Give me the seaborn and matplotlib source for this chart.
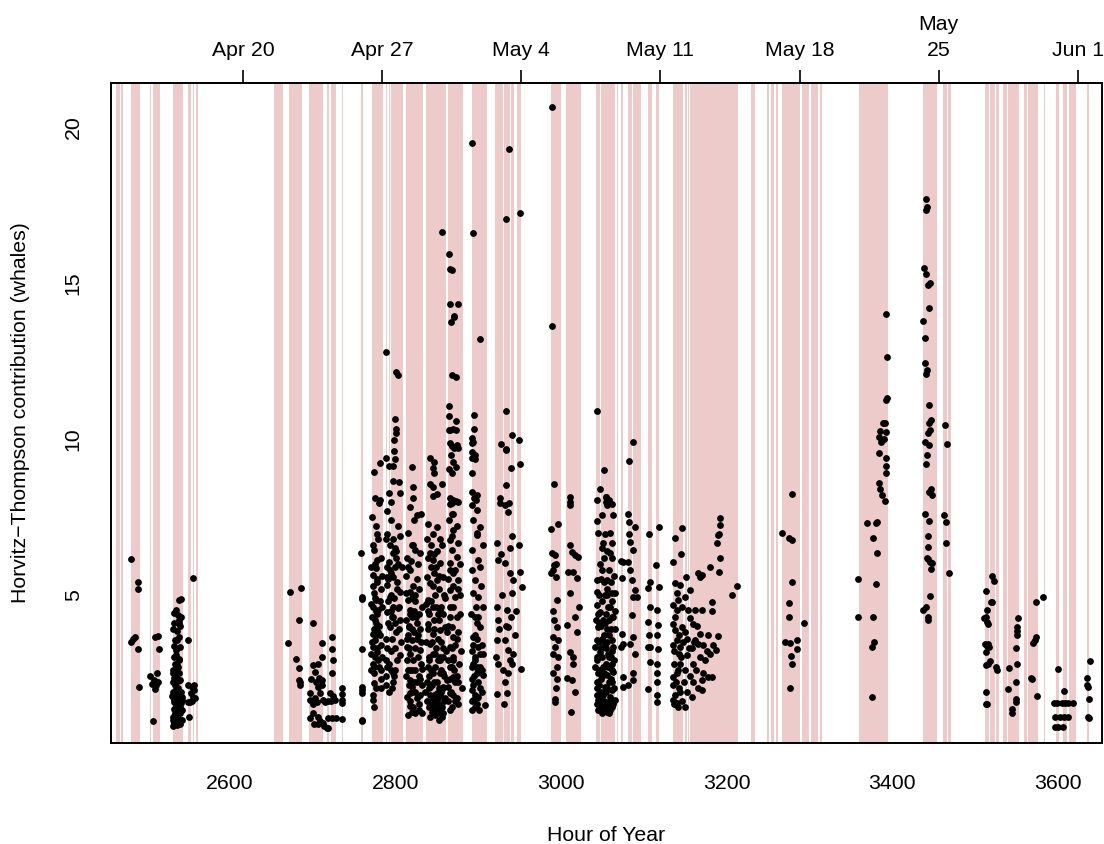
import numpy as np
import pandas as pd
import matplotlib
matplotlib.use("Agg")
import matplotlib.pyplot as plt
import seaborn as sns

# ---------------- data ----------------
# shaded effort periods (hour of year)
band_start = [2462.3, 2468.3, 2480.4, 2503.3, 2507.0, 2531.1, 2548.9, 2554.9, 2559.3,
              2653.2, 2659.6, 2671.3, 2695.4, 2717.2, 2722.4, 2726.0, 2735.0, 2758.3,
              2771.6, 2788.1, 2792.1, 2794.9, 2812.6, 2836.8, 2863.4, 2892.4, 2920.2,
              2931.0, 2939.5, 2946.4, 2987.5, 3006.0, 3042.2, 3048.2, 3067.2, 3072.0,
              3080.9, 3086.5, 3105.0, 3114.7, 3135.2, 3149.4, 3153.7, 3155.8, 3229.5,
              3248.8, 3253.6, 3259.1, 3266.3, 3291.1, 3301.4, 3312.8, 3359.4, 3437.3,
              3461.8, 3467.5, 3512.2, 3518.2, 3525.5, 3533.9, 3540.0, 3559.7, 3564.2,
              3583.5, 3597.6, 3606.1, 3613.3, 3635.1]
band_end = [2467.1, 2470.4, 2491.3, 2504.9, 2515.4, 2543.2, 2552.9, 2556.9, 2561.3,
            2658.8, 2664.0, 2687.0, 2712.4, 2719.3, 2725.3, 2728.1, 2736.5, 2760.7,
            2785.2, 2790.0, 2793.7, 2809.0, 2833.2, 2861.0, 2881.5, 2910.5, 2929.8,
            2938.3, 2943.1, 2951.2, 2999.9, 3024.1, 3047.0, 3065.2, 3069.1, 3074.8,
            3085.3, 3096.6, 3109.5, 3118.7, 3147.7, 3152.2, 3154.6, 3213.8, 3234.3,
            3251.6, 3256.7, 3261.5, 3288.3, 3299.2, 3310.8, 3314.9, 3395.4, 3453.8,
            3465.9, 3471.1, 3517.0, 3524.3, 3529.1, 3538.8, 3553.3, 3562.9, 3576.6,
            3584.7, 3601.2, 3610.9, 3621.8, 3637.5]

# top axis date ticks
date_hours = [2616, 2784, 2952, 3120, 3288, 3456, 3624]
date_labels = ["Apr 20", "Apr 27", "May 4", "May 11", "May 18", "May\n25", "Jun 1"]

# (hour, whales) detections, grouped by period
pts_apr_early = [
    (2480.4, 6.14), (2489.2, 5.40), (2489.2, 5.18), (2480.0, 3.50), (2483.0, 3.58), (2485.0, 3.64),
    (2488.5, 3.25), (2490.0, 2.05), (2503.7, 2.39), (2508.2, 2.27), (2511.4, 2.48), (2513.4, 2.21),
    (2509.4, 1.97), (2507.3, 0.96), (2509.7, 3.66), (2513.4, 3.69), (2513.8, 3.25), (2506.0, 2.15),
    (2511.0, 2.10),
    (2532.3, 4.41), (2535.5, 4.51), (2538.8, 4.83), (2541.2, 4.86), (2537.6, 4.35), (2540.8, 4.30),
    (2532.3, 4.11), (2539.6, 4.00), (2538.0, 3.66), (2536.4, 3.57), (2539.6, 3.34), (2535.5, 3.23),
    (2534.7, 3.07), (2538.0, 2.91), (2533.5, 2.80), (2537.2, 2.70), (2531.5, 2.48), (2535.5, 2.37),
    (2539.6, 2.27), (2533.5, 2.11), (2537.6, 2.00), (2530.7, 1.89), (2536.4, 1.79), (2541.6, 1.73),
    (2532.3, 1.63), (2538.4, 1.57), (2534.7, 1.47), (2541.2, 1.52), (2536.4, 1.31), (2539.6, 1.20),
    (2533.5, 1.15), (2531.5, 0.98), (2537.6, 0.93), (2541.6, 0.98), (2530.7, 0.79), (2536.4, 0.82),
    (2539.6, 0.86), (2542.4, 1.63), (2542.0, 1.31), (2531.5, 2.60), (2533.0, 2.20), (2536.0, 1.95),
    (2538.0, 1.85), (2534.0, 1.70), (2540.0, 1.65), (2532.0, 1.55), (2537.0, 1.40), (2535.0, 1.05),
    (2539.0, 2.50), (2533.0, 3.00), (2531.0, 3.90), (2539.0, 4.20), (2536.0, 2.75), (2534.0, 2.45),
    (2541.0, 1.90), (2530.5, 1.75),
    (2531.0, 2.20), (2533.0, 1.90), (2535.0, 2.05), (2537.0, 1.65), (2539.0, 1.75), (2532.0, 1.35),
    (2534.0, 1.20), (2536.0, 1.55), (2538.0, 1.25), (2540.0, 1.40), (2531.0, 1.10), (2533.0, 2.35),
    (2535.0, 2.60), (2537.0, 2.25), (2539.0, 2.95), (2532.0, 3.35), (2534.0, 3.55), (2536.0, 3.85),
    (2538.0, 4.10), (2533.0, 0.90), (2537.0, 1.05),
    (2555.7, 5.53), (2550.0, 3.57), (2550.9, 1.07), (2551.5, 1.55), (2549.8, 1.55), (2553.7, 2.05),
    (2557.0, 1.95), (2556.0, 1.73), (2557.4, 1.68), (2552.5, 1.85), (2549.0, 2.10), (2554.5, 1.60),
    (2556.5, 2.10),
]

pts_apr_mid = [
    (2672.5, 5.08), (2685.4, 5.21), (2683.4, 4.21), (2670.5, 3.46), (2679.4, 2.96), (2683.7, 2.67),
    (2683.7, 2.27), (2684.3, 2.12), (2684.9, 2.20),
    (2700.6, 4.09), (2710.7, 3.46), (2710.7, 3.02), (2700.6, 2.75), (2706.7, 2.80), (2702.6, 2.53),
    (2698.0, 2.30), (2704.0, 2.20), (2708.0, 2.35), (2711.0, 2.10), (2696.5, 1.84), (2709.0, 1.84),
    (2707.0, 2.05), (2711.0, 2.27), (2697.0, 1.63), (2705.0, 1.57), (2713.0, 1.63), (2700.0, 1.50),
    (2703.0, 1.70), (2715.0, 1.55), (2718.0, 1.60), (2700.6, 1.20), (2706.0, 1.10), (2697.0, 1.05),
    (2709.0, 0.95), (2706.7, 0.86), (2712.0, 0.90), (2716.8, 0.72), (2714.0, 0.80), (2702.0, 0.85),
    (2723.6, 3.66), (2723.6, 3.28), (2724.8, 2.91), (2723.6, 2.50), (2720.8, 1.87), (2726.8, 1.63),
    (2735.7, 2.02), (2735.7, 1.81), (2735.7, 1.63), (2735.7, 1.52), (2735.7, 1.03), (2718.0, 1.04),
    (2723.6, 1.04), (2728.0, 1.04), (2718.8, 0.74), (2724.0, 1.75), (2722.0, 1.60),
    (2758.3, 6.36), (2759.8, 4.94), (2759.8, 4.87), (2759.8, 3.26), (2759.0, 2.05), (2759.0, 1.95),
    (2759.0, 1.85), (2759.8, 1.00), (2759.8, 0.95),
]

pts_apr_late = [
    (2774.0, 6.44), (2777.2, 6.97), (2777.2, 6.12), (2776.0, 5.85), (2773.2, 5.64), (2778.0, 5.42),
    (2774.3, 5.05), (2776.0, 4.83), (2773.2, 4.62), (2779.2, 4.51), (2775.2, 4.19), (2776.4, 3.92),
    (2772.4, 3.76), (2775.2, 3.55), (2773.2, 3.34), (2777.2, 3.18), (2775.2, 3.02), (2772.4, 2.80),
    (2774.3, 2.70), (2773.9, 2.16), (2773.2, 1.63), (2773.9, 1.39), (2774.0, 8.95), (2780.9, 9.24),
    (2775.0, 8.10), (2781.3, 8.05), (2780.0, 7.94), (2772.0, 7.50), (2776.0, 7.20), (2779.0, 6.80),
    (2773.0, 6.60), (2783.0, 6.20), (2771.0, 5.90), (2778.0, 5.50), (2782.0, 5.20), (2775.0, 4.90),
    (2784.0, 4.60), (2772.0, 4.30), (2780.0, 4.00), (2776.0, 3.70), (2783.0, 3.40), (2771.0, 3.10),
    (2779.0, 2.90), (2774.0, 2.50), (2782.0, 2.30), (2777.0, 2.00), (2773.0, 1.80), (2781.0, 3.70),
    (2778.0, 4.40), (2784.0, 5.60), (2770.5, 2.60),
    (2772.0, 3.50), (2774.0, 3.90), (2776.0, 4.50), (2778.0, 3.30), (2780.0, 2.70), (2782.0, 2.00),
    (2784.0, 3.00), (2771.0, 4.70), (2773.0, 5.30), (2775.0, 6.00), (2777.0, 4.10), (2779.0, 3.80),
    (2781.0, 4.80), (2783.0, 2.60),
    (2790.0, 6.97), (2793.3, 6.60), (2797.3, 6.33), (2800.5, 6.17), (2792.5, 6.06), (2789.2, 5.90),
    (2790.0, 5.58), (2797.3, 5.58), (2801.3, 5.42), (2789.2, 5.31), (2793.3, 4.94), (2797.3, 4.62),
    (2803.4, 4.57), (2789.2, 4.46), (2795.3, 4.30), (2793.3, 3.98), (2788.4, 2.91), (2790.0, 2.70),
    (2788.4, 2.11), (2797.3, 2.48), (2797.3, 2.21), (2807.4, 5.90), (2805.4, 3.07), (2805.4, 5.10),
    (2788.9, 12.78), (2800.6, 12.14), (2802.6, 12.05), (2799.4, 10.65), (2800.9, 10.31), (2801.2, 10.18),
    (2797.8, 9.96), (2797.8, 9.62), (2799.4, 9.35), (2788.9, 9.38), (2792.6, 9.13), (2797.0, 9.14),
    (2797.3, 8.66), (2804.0, 8.63), (2791.8, 8.26), (2806.0, 8.26), (2794.8, 7.99), (2790.0, 7.70),
    (2795.0, 7.40), (2803.0, 7.20), (2788.0, 6.80), (2799.0, 6.50), (2806.0, 6.90), (2794.0, 5.70),
    (2802.0, 5.20), (2791.0, 4.80), (2797.0, 4.30), (2804.0, 3.90), (2789.0, 3.60), (2800.0, 3.30),
    (2795.0, 2.60), (2807.0, 3.50), (2792.0, 1.90), (2798.0, 2.40), (2801.0, 3.80), (2794.0, 3.20),
    (2791.0, 4.10),
    (2790.0, 3.30), (2792.0, 2.80), (2794.0, 4.50), (2796.0, 3.60), (2798.0, 4.90), (2800.0, 4.10),
    (2802.0, 2.90), (2804.0, 4.60), (2806.0, 4.20), (2791.0, 5.50), (2793.0, 5.80), (2795.0, 5.00),
    (2797.0, 6.80), (2799.0, 5.90), (2801.0, 6.40), (2803.0, 6.00), (2789.0, 2.40), (2796.0, 2.00),
    (2800.0, 2.60),
    (2817.4, 7.83), (2822.3, 7.40), (2825.5, 7.56), (2830.3, 7.61), (2819.4, 6.60), (2823.5, 6.44),
    (2829.5, 6.33), (2812.6, 5.05), (2815.4, 4.83), (2817.4, 4.51), (2819.4, 4.30), (2816.6, 3.98),
    (2819.4, 3.55), (2813.4, 3.34), (2817.4, 3.12), (2821.5, 2.91), (2815.4, 2.59), (2817.4, 2.27),
    (2819.4, 2.05), (2817.4, 1.84), (2821.5, 1.41), (2819.4, 1.25), (2829.5, 3.23), (2831.5, 2.64),
    (2825.5, 2.21), (2813.4, 1.73), (2819.5, 9.09), (2821.0, 8.45), (2821.0, 8.10), (2814.0, 6.20),
    (2818.0, 5.80), (2826.0, 5.50), (2816.0, 4.00), (2822.0, 3.80), (2827.0, 3.00), (2813.0, 2.40),
    (2824.0, 1.90), (2818.0, 1.60), (2829.0, 1.30), (2832.0, 4.60), (2831.0, 2.80), (2828.0, 5.20),
    (2815.0, 7.00), (2820.0, 2.60), (2823.0, 1.20), (2817.0, 1.45), (2826.0, 4.10), (2814.0, 3.60),
    (2820.0, 4.90), (2824.0, 3.30), (2830.0, 1.80), (2816.0, 2.10), (2827.0, 6.00), (2821.0, 5.30),
    (2815.0, 1.15),
    (2813.0, 5.60), (2815.0, 5.90), (2818.0, 4.40), (2820.0, 3.90), (2822.0, 4.50), (2824.0, 5.00),
    (2826.0, 3.60), (2828.0, 2.40), (2830.0, 3.90), (2832.0, 2.10), (2814.0, 2.90), (2816.0, 3.30),
    (2818.0, 2.60), (2820.0, 1.90), (2822.0, 2.20), (2824.0, 2.60), (2826.0, 1.70), (2828.0, 1.50),
    (2830.0, 2.30), (2832.0, 1.20), (2813.0, 4.20), (2815.0, 3.70), (2817.0, 5.10), (2819.0, 6.10),
    (2821.0, 6.60), (2823.0, 4.80), (2825.0, 4.30), (2827.0, 3.70), (2829.0, 4.40), (2831.0, 3.50),
    (2839.6, 7.29), (2845.6, 6.97), (2849.6, 7.19), (2841.6, 6.33), (2845.6, 6.12), (2853.7, 6.01),
    (2837.6, 5.58), (2841.6, 5.37), (2849.6, 5.47), (2857.7, 5.58), (2839.6, 4.83), (2845.6, 4.62),
    (2853.7, 4.51), (2839.6, 4.08), (2845.6, 3.76), (2853.7, 3.87), (2859.7, 3.98), (2841.6, 3.44),
    (2847.6, 3.12), (2853.7, 3.02), (2839.6, 2.70), (2845.6, 2.48), (2853.7, 2.48), (2841.6, 2.05),
    (2849.6, 1.84), (2843.6, 1.52), (2847.6, 1.31), (2853.7, 1.36), (2857.7, 2.05), (2861.7, 2.27),
    (2845.6, 9.06), (2846.0, 8.90), (2846.6, 9.25), (2856.1, 16.63), (2842.0, 9.38), (2845.4, 8.45),
    (2841.6, 8.55), (2845.6, 8.18), (2849.6, 8.24), (2856.0, 8.55), (2838.0, 6.80), (2843.0, 5.90),
    (2848.0, 5.00), (2852.0, 4.20), (2855.0, 3.50), (2840.0, 3.00), (2847.0, 2.20), (2851.0, 1.70),
    (2858.0, 1.20), (2842.0, 1.10), (2844.0, 1.60), (2854.0, 2.90), (2849.0, 3.30), (2839.0, 4.50),
    (2856.0, 6.60), (2850.0, 6.40), (2860.0, 4.90), (2836.0, 1.90), (2853.0, 1.00), (2846.0, 3.90),
    (2857.0, 2.50), (2841.0, 2.40), (2859.0, 1.60), (2843.0, 4.80), (2852.0, 5.60), (2848.0, 2.70),
    (2844.0, 3.50), (2850.0, 1.20), (2855.0, 1.90), (2838.0, 2.20), (2851.0, 4.40), (2847.0, 5.70),
    (2858.0, 3.30), (2840.0, 1.40), (2846.0, 1.80), (2854.0, 6.80),
    (2837.0, 3.50), (2839.0, 3.90), (2841.0, 2.90), (2843.0, 2.60), (2845.0, 3.10), (2847.0, 4.20),
    (2849.0, 4.60), (2851.0, 2.90), (2853.0, 2.00), (2855.0, 2.60), (2857.0, 3.00), (2859.0, 2.40),
    (2861.0, 3.20), (2838.0, 1.60), (2840.0, 2.00), (2842.0, 1.80), (2844.0, 2.10), (2846.0, 1.40),
    (2848.0, 1.60), (2850.0, 2.20), (2852.0, 1.50), (2854.0, 1.80), (2856.0, 1.40), (2858.0, 2.00),
    (2860.0, 1.70), (2837.0, 4.70), (2841.0, 4.40), (2845.0, 5.30), (2849.0, 5.90), (2853.0, 5.20),
    (2857.0, 4.40), (2839.0, 6.20), (2843.0, 6.60), (2847.0, 6.30), (2851.0, 3.60), (2855.0, 4.60),
    (2859.0, 5.00), (2844.0, 1.25), (2848.0, 1.15), (2852.0, 1.30), (2856.0, 1.10),
]

pts_may_early = [
    (2865.8, 7.93), (2867.8, 7.61), (2865.0, 7.40), (2869.8, 7.08), (2865.8, 6.76), (2875.8, 6.65),
    (2867.8, 6.44), (2873.8, 6.22), (2865.8, 6.01), (2869.8, 5.69), (2875.8, 5.47), (2865.8, 5.15),
    (2871.8, 4.94), (2865.8, 4.62), (2877.8, 4.99), (2873.8, 4.30), (2867.8, 3.98), (2869.8, 3.66),
    (2865.8, 3.34), (2869.8, 3.02), (2865.8, 2.70), (2869.8, 2.37), (2863.7, 2.05), (2875.8, 2.21),
    (2865.8, 1.84), (2865.8, 15.46), (2868.2, 15.41), (2864.9, 15.93), (2865.8, 14.32), (2875.5, 14.32),
    (2871.0, 13.96), (2870.6, 13.90), (2867.0, 13.75), (2867.8, 12.04), (2872.7, 11.99), (2865.0, 11.07),
    (2865.0, 10.75), (2873.4, 10.57), (2866.0, 10.30), (2869.0, 10.32), (2873.0, 10.28), (2864.5, 10.29),
    (2866.0, 9.86), (2868.0, 9.78), (2871.0, 9.72), (2874.0, 9.80), (2876.0, 9.70), (2867.0, 9.50),
    (2869.0, 9.25), (2873.0, 9.11), (2865.0, 9.03), (2868.0, 8.90), (2866.0, 8.10), (2870.0, 8.05),
    (2876.0, 7.97), (2868.0, 7.95), (2873.0, 8.00), (2878.0, 6.00), (2862.0, 3.80), (2879.0, 3.20),
    (2872.0, 1.60), (2866.0, 1.30), (2877.0, 2.80), (2880.0, 2.00), (2870.0, 4.60), (2874.0, 3.60),
    (2864.0, 5.50), (2871.0, 2.60), (2867.0, 1.90), (2876.0, 5.20), (2863.0, 2.90),
    (2864.0, 4.00), (2866.0, 4.30), (2868.0, 3.30), (2870.0, 2.90), (2872.0, 3.40), (2874.0, 2.40),
    (2876.0, 3.80), (2878.0, 4.40), (2866.0, 2.30), (2868.0, 2.70), (2870.0, 1.80), (2872.0, 2.20),
    (2874.0, 1.70), (2864.0, 1.60), (2868.0, 1.40), (2876.0, 1.50), (2870.0, 5.30), (2872.0, 5.80),
    (2866.0, 5.80), (2868.0, 6.90), (2874.0, 7.20), (2870.0, 7.60),
    (2891.9, 7.88), (2898.0, 7.72), (2894.0, 7.40), (2902.0, 7.19), (2898.0, 6.92), (2891.9, 6.44),
    (2900.0, 6.12), (2902.0, 5.90), (2896.0, 5.47), (2894.0, 5.05), (2900.0, 4.94), (2906.0, 4.62),
    (2896.0, 4.30), (2902.0, 3.98), (2894.0, 3.66), (2900.0, 3.34), (2906.0, 3.12), (2896.0, 2.91),
    (2902.0, 2.70), (2898.0, 2.48), (2906.0, 2.43), (2894.0, 1.63), (2900.0, 1.73), (2908.0, 1.47),
    (2893.0, 1.95), (2892.7, 19.49), (2893.6, 16.60), (2902.4, 13.20), (2894.8, 10.76), (2895.2, 10.31),
    (2892.5, 10.04), (2892.5, 9.88), (2892.0, 9.40), (2896.0, 9.48), (2895.5, 9.35), (2892.0, 8.90),
    (2893.0, 8.30), (2895.0, 8.10), (2897.0, 8.06), (2898.0, 8.20), (2892.0, 9.60), (2894.0, 9.90),
    (2896.0, 3.00), (2900.0, 2.20), (2893.0, 1.30), (2904.0, 1.90), (2898.0, 3.60), (2903.0, 5.30),
    (2891.0, 4.40), (2906.0, 6.60), (2899.0, 1.50), (2892.0, 3.20), (2897.0, 4.60), (2904.0, 3.40),
    (2895.0, 2.40), (2901.0, 1.30), (2893.0, 5.80), (2899.0, 7.00),
    (2892.0, 2.30), (2894.0, 2.80), (2896.0, 1.80), (2898.0, 2.70), (2900.0, 2.60), (2902.0, 3.10),
    (2894.0, 3.40), (2896.0, 3.70), (2898.0, 4.10), (2900.0, 4.30), (2902.0, 2.00), (2892.0, 2.70),
    (2894.0, 2.10), (2898.0, 1.70), (2904.0, 2.60), (2892.0, 1.60), (2896.0, 1.40),
    (2932.2, 7.88), (2936.2, 7.67), (2922.2, 6.65), (2938.2, 6.49), (2924.2, 6.12), (2932.2, 6.01),
    (2938.2, 5.69), (2942.3, 5.47), (2940.3, 5.05), (2922.2, 4.62), (2934.2, 4.51), (2924.2, 4.19),
    (2936.2, 3.98), (2922.2, 3.55), (2932.2, 3.55), (2936.2, 3.23), (2942.3, 3.12), (2924.2, 2.80),
    (2940.3, 2.80), (2936.2, 2.48), (2932.2, 2.21), (2922.2, 1.81), (2934.2, 1.86), (2949.5, 6.60),
    (2950.3, 5.74), (2951.1, 2.64), (2952.3, 5.24), (2937.1, 19.31), (2950.0, 17.26), (2933.9, 17.05),
    (2933.5, 10.89), (2940.3, 10.12), (2927.0, 9.83), (2933.0, 9.67), (2933.3, 9.64), (2948.8, 9.96),
    (2939.7, 9.08), (2950.0, 9.21), (2933.8, 8.51), (2926.0, 8.10), (2926.0, 7.95), (2937.0, 7.95),
    (2929.0, 5.00), (2934.0, 4.00), (2945.0, 4.50), (2921.0, 3.00), (2931.0, 1.50), (2938.0, 2.90),
    (2944.0, 3.70), (2928.0, 6.30), (2941.0, 6.90), (2925.0, 3.90), (2939.0, 4.30), (2930.0, 2.60),
    (2996.6, 7.27), (2988.6, 6.33), (2992.6, 6.28), (2990.6, 5.80), (2993.8, 5.58), (2995.4, 4.83),
    (2991.4, 4.19), (2994.6, 3.98), (2989.8, 3.66), (2996.6, 3.55), (2992.6, 3.34), (2996.6, 3.02),
    (2994.6, 2.70), (2990.6, 2.48), (2993.8, 2.00), (2992.6, 1.65), (2992.6, 1.57), (2989.4, 20.66),
    (2988.6, 13.63), (2991.0, 8.55), (2992.0, 5.95), (2988.0, 5.70), (2994.0, 6.00), (2990.0, 4.50),
    (2987.5, 7.10), (2990.0, 3.10), (2995.0, 2.30),
    (3010.7, 7.88), (3010.7, 6.60), (3012.7, 6.38), (3016.8, 6.28), (3020.8, 6.22), (3008.7, 5.74),
    (3014.8, 5.74), (3018.8, 5.53), (3010.7, 5.05), (3022.0, 4.62), (3016.8, 4.30), (3006.7, 4.03),
    (3018.8, 3.82), (3010.7, 3.18), (3013.9, 3.02), (3014.8, 2.80), (3006.7, 2.32), (3012.7, 2.27),
    (3016.8, 1.89), (3011.9, 1.25), (3010.8, 8.13), (3010.8, 7.97),
]

pts_may_mid = [
    (3043.0, 7.38), (3049.1, 7.56), (3062.4, 7.56), (3061.2, 7.93), (3058.3, 8.04), (3045.0, 6.99),
    (3053.1, 6.97), (3059.1, 6.99), (3051.1, 6.65), (3061.2, 6.65), (3049.1, 6.49), (3059.1, 6.33),
    (3061.2, 6.17), (3043.0, 5.47), (3055.1, 5.47), (3053.1, 4.99), (3061.2, 5.05), (3065.2, 5.05),
    (3043.0, 4.67), (3047.0, 4.46), (3059.1, 4.62), (3051.1, 4.19), (3063.2, 4.30), (3045.0, 3.98),
    (3055.1, 3.92), (3065.2, 3.92), (3043.0, 3.55), (3053.1, 3.44), (3061.2, 3.55), (3047.0, 3.18),
    (3057.1, 3.12), (3063.2, 3.34), (3043.0, 2.91), (3051.1, 2.70), (3061.2, 2.80), (3045.0, 2.48),
    (3055.1, 2.43), (3063.2, 2.53), (3043.0, 2.00), (3053.1, 2.05), (3061.2, 1.95), (3045.0, 1.63),
    (3049.1, 1.52), (3057.1, 1.57), (3065.2, 1.63), (3045.0, 1.31), (3053.1, 1.36), (3061.2, 1.41),
    (3047.0, 1.73), (3059.1, 1.73), (3041.0, 3.34), (3041.0, 2.70), (3074.4, 6.06), (3072.0, 6.08),
    (3074.0, 5.53), (3073.2, 3.76), (3074.4, 3.44), (3075.3, 2.37), (3074.4, 2.05), (3072.4, 3.34),
    (3043.8, 10.89), (3051.9, 9.00), (3053.7, 8.15), (3054.1, 8.13), (3054.0, 7.97), (3055.5, 7.87),
    (3047.0, 8.40), (3044.0, 8.05), (3050.0, 5.80), (3056.0, 5.20), (3046.0, 5.00), (3058.0, 4.20),
    (3052.0, 3.70), (3060.0, 3.00), (3048.0, 2.30), (3056.0, 2.00), (3050.0, 1.20), (3058.0, 1.20),
    (3046.0, 3.50), (3062.0, 4.80), (3054.0, 3.30), (3048.0, 4.00), (3057.0, 2.70), (3044.0, 2.20),
    (3051.0, 1.80), (3060.0, 2.30), (3047.0, 6.00), (3056.0, 6.40), (3064.0, 5.60), (3052.0, 5.40),
    (3042.0, 4.20), (3058.0, 5.80),
    (3044.0, 3.00), (3046.0, 2.60), (3048.0, 3.30), (3050.0, 3.00), (3052.0, 2.50), (3054.0, 2.80),
    (3056.0, 3.50), (3058.0, 3.70), (3060.0, 3.90), (3062.0, 3.20), (3064.0, 2.90), (3044.0, 1.80),
    (3046.0, 2.10), (3048.0, 1.90), (3050.0, 2.40), (3052.0, 1.60), (3054.0, 1.90), (3056.0, 1.40),
    (3058.0, 2.20), (3060.0, 1.60), (3062.0, 2.20), (3064.0, 2.00), (3043.0, 1.50), (3047.0, 1.35),
    (3051.0, 1.45), (3055.0, 1.25), (3059.0, 1.30), (3063.0, 1.50), (3045.0, 4.40), (3049.0, 4.80),
    (3053.0, 4.10), (3057.0, 4.60), (3061.0, 4.30), (3065.0, 4.50), (3044.0, 5.10), (3048.0, 5.50),
    (3052.0, 6.20), (3056.0, 5.00), (3060.0, 5.40), (3050.0, 3.60), (3054.0, 4.40), (3046.0, 4.10),
    (3058.0, 3.00), (3062.0, 2.60),
    (3081.3, 7.61), (3082.5, 7.35), (3089.3, 7.19), (3082.5, 6.97), (3083.3, 6.70), (3087.3, 6.44),
    (3081.3, 6.06), (3083.3, 5.80), (3085.3, 5.47), (3089.3, 5.15), (3087.3, 4.94), (3091.4, 4.94),
    (3085.3, 4.35), (3087.3, 3.66), (3083.3, 3.44), (3089.3, 3.12), (3087.3, 2.27), (3081.3, 2.11),
    (3087.3, 2.48), (3086.9, 9.89), (3082.4, 9.31),
    (3106.3, 6.97), (3118.3, 7.19), (3114.7, 5.96), (3107.5, 5.42), (3105.5, 5.21), (3107.5, 4.62),
    (3115.5, 4.51), (3105.5, 4.14), (3117.5, 4.03), (3116.3, 3.71), (3105.9, 3.71), (3105.5, 3.34),
    (3107.5, 3.34), (3117.5, 3.28), (3107.5, 2.86), (3116.3, 2.80), (3116.3, 2.48), (3116.3, 2.21),
    (3105.5, 1.99), (3115.5, 1.79), (3116.3, 1.57), (3117.9, 5.24),
    (3137.7, 6.81), (3146.1, 7.16), (3144.5, 6.31), (3135.7, 6.06), (3137.7, 5.37), (3143.7, 5.31),
    (3151.0, 5.58), (3155.8, 5.15), (3139.7, 5.05), (3141.7, 4.83), (3135.7, 4.67), (3139.7, 4.51),
    (3149.8, 4.94), (3153.8, 4.51), (3161.8, 4.51), (3165.9, 5.69), (3167.9, 5.58), (3169.9, 5.63),
    (3180.0, 5.90), (3192.0, 7.47), (3192.0, 7.24), (3191.2, 6.97), (3190.0, 6.92), (3188.8, 6.67),
    (3192.0, 6.17), (3191.2, 5.74), (3182.0, 4.78), (3182.0, 4.49), (3169.9, 4.51), (3155.8, 4.25),
    (3159.8, 4.08), (3135.7, 4.08), (3137.7, 3.87), (3145.7, 3.98), (3139.7, 3.55), (3135.7, 3.39),
    (3143.7, 3.34), (3149.8, 3.82), (3161.8, 3.55), (3165.9, 3.44), (3167.9, 3.76), (3177.9, 3.71),
    (3190.0, 3.68), (3187.2, 3.23), (3151.8, 3.07), (3143.7, 2.80), (3159.8, 2.80), (3173.9, 2.91),
    (3177.9, 2.37), (3182.0, 2.37), (3169.9, 2.27), (3159.8, 2.21), (3135.7, 2.37), (3135.7, 2.11),
    (3143.7, 1.89), (3157.8, 1.73), (3169.9, 1.95), (3134.9, 1.63), (3139.7, 1.52), (3141.7, 1.39),
    (3149.8, 1.39), (3212.2, 5.29), (3206.1, 4.99), (3138.0, 4.30), (3142.0, 3.10), (3136.0, 2.80),
    (3140.0, 2.50), (3146.0, 4.60), (3152.0, 3.60), (3158.0, 3.30), (3163.0, 2.60), (3172.0, 3.40),
    (3148.0, 2.20), (3136.0, 1.50), (3180.0, 3.10),
    (3137.0, 3.20), (3139.0, 2.20), (3141.0, 2.60), (3143.0, 3.70), (3145.0, 3.00), (3147.0, 3.50),
    (3150.0, 2.60), (3154.0, 3.30), (3156.0, 2.40), (3160.0, 3.50), (3164.0, 4.00), (3168.0, 3.00),
    (3138.0, 1.80), (3142.0, 2.00), (3146.0, 1.60), (3152.0, 1.90), (3176.0, 3.20), (3184.0, 3.40),
    (3172.0, 2.50), (3166.0, 2.00),
]

pts_may_late = [
    (3266.5, 7.00), (3275.8, 6.81), (3278.6, 5.42), (3275.8, 4.75), (3275.8, 4.30), (3293.9, 4.09),
    (3270.6, 3.50), (3276.6, 3.46), (3285.5, 3.55), (3284.7, 3.28), (3277.4, 3.05), (3279.4, 2.77),
    (3276.6, 2.02), (3279.0, 8.25), (3279.5, 6.75),
    (3359.2, 5.50), (3359.2, 4.30), (3369.2, 7.31), (3380.5, 7.31), (3381.3, 7.35), (3376.5, 6.81),
    (3381.3, 6.33), (3380.5, 5.34), (3376.5, 4.30), (3378.1, 3.50), (3375.7, 3.34), (3375.7, 1.71),
    (3391.4, 8.00), (3392.6, 14.00), (3393.4, 12.64), (3392.0, 11.25), (3393.4, 11.32), (3390.7, 10.50),
    (3389.3, 10.50), (3385.0, 10.27), (3392.0, 10.24), (3383.6, 10.08), (3390.0, 10.00), (3384.4, 9.54),
    (3392.6, 9.40), (3392.0, 9.15), (3385.0, 8.40), (3388.0, 8.20), (3392.0, 8.90), (3384.0, 8.60),
    (3387.0, 9.90),
    (3440.5, 17.70), (3441.5, 17.45), (3440.5, 17.35), (3438.5, 15.50), (3441.0, 15.30), (3446.0, 15.00),
    (3443.5, 14.95), (3444.0, 14.20), (3437.5, 13.80), (3440.0, 13.25), (3439.0, 12.45), (3441.5, 12.20),
    (3440.5, 12.10), (3445.0, 11.10), (3447.0, 10.60), (3444.0, 10.50), (3446.0, 10.30), (3443.0, 10.20),
    (3445.0, 9.80), (3439.0, 9.90), (3442.0, 9.50), (3441.0, 9.20), (3447.0, 8.40), (3445.0, 8.30),
    (3448.0, 8.20), (3440.0, 7.60), (3444.8, 7.38), (3442.9, 6.90), (3442.9, 6.54), (3441.7, 6.17),
    (3443.7, 6.14), (3445.8, 6.06), (3447.8, 6.01), (3446.6, 5.82), (3445.8, 4.97), (3440.5, 4.62),
    (3437.7, 4.51), (3443.3, 4.30), (3443.3, 4.19), (3462.6, 7.56), (3464.6, 7.35), (3465.0, 6.67),
    (3469.0, 5.71), (3464.0, 10.45), (3466.0, 9.85),
]

pts_june = [
    (3513.4, 5.13), (3521.0, 5.60), (3523.0, 5.44), (3519.0, 4.78), (3521.0, 4.76), (3515.0, 4.51),
    (3513.4, 4.28), (3511.4, 4.25), (3514.2, 4.14), (3516.2, 4.08), (3512.2, 3.44), (3514.2, 3.36),
    (3516.2, 3.42), (3517.4, 3.34), (3513.4, 3.18), (3518.2, 2.89), (3513.4, 2.75), (3516.2, 2.80),
    (3525.5, 2.70), (3526.3, 2.59), (3513.4, 1.89), (3513.4, 1.50), (3515.0, 1.50),
    (3541.2, 2.66), (3540.4, 1.98), (3551.7, 4.25), (3551.2, 3.98), (3551.2, 3.85), (3551.2, 3.71),
    (3549.2, 3.30), (3550.4, 2.80), (3549.2, 2.22), (3549.2, 1.65), (3549.6, 1.57), (3545.2, 1.33),
    (3545.2, 1.20),
    (3573.8, 4.78), (3582.7, 4.92), (3573.8, 3.64), (3572.6, 3.55), (3570.6, 3.46), (3567.4, 2.32),
    (3568.6, 2.29), (3574.6, 1.77),
    (3600.8, 2.64), (3608.0, 1.93), (3595.5, 1.52), (3599.6, 1.52), (3604.8, 1.52), (3608.8, 1.52),
    (3612.8, 1.52), (3618.1, 1.52), (3596.7, 1.09), (3602.6, 1.09), (3607.8, 1.09), (3612.6, 1.09),
    (3596.7, 0.77), (3600.8, 0.77), (3606.8, 0.77),
    (3639.0, 2.89), (3635.8, 2.34), (3635.8, 2.10), (3637.0, 2.05), (3638.2, 1.67), (3637.0, 1.07),
    (3638.2, 1.06),
]

# ---------------- plotting ----------------
sns.set_style("white")
plt.rcParams["font.family"] = ["Liberation Sans", "DejaVu Sans"]
plt.rcParams["text.color"] = "black"
plt.rcParams["axes.labelcolor"] = "black"
plt.rcParams["xtick.color"] = "black"
plt.rcParams["ytick.color"] = "black"
FS = 15.3

all_pts = pts_apr_early + pts_apr_mid + pts_apr_late + pts_may_early + pts_may_mid + pts_may_late + pts_june
df = pd.DataFrame(all_pts, columns=["hour", "whales"])

fig = plt.figure(figsize=(11.04, 8.44), dpi=100)
ax = fig.add_axes([111 / 1104, 1 - 742.7 / 844, 990.7 / 1104, 660 / 844])

for s, e in zip(band_start, band_end):
    ax.axvspan(s, e, color="#EDCBCB", lw=0, zorder=0)

sns.scatterplot(data=df, x="hour", y="whales", color="black", s=24, linewidth=0,
                ax=ax, zorder=3, legend=False)

ax.set_xlim(2456.4, 3653.0)
ax.set_ylim(0.26, 21.43)

ax.set_xticks([2600, 2800, 3000, 3200, 3400, 3600])
ax.set_yticks([5, 10, 15, 20])
ax.tick_params(axis="both", direction="out", length=9.4, width=1.2, color="black",
               labelsize=FS, labelcolor="black")
ax.tick_params(axis="x", pad=13)
ax.tick_params(axis="y", pad=11)
for lab in ax.get_yticklabels():
    lab.set_rotation(90)
    lab.set_va("center")

for sp in ax.spines.values():
    sp.set_visible(True)
    sp.set_color("black")
    sp.set_linewidth(1.4)

ax.set_xlabel("Hour of Year", fontsize=FS, labelpad=24, color="black")
ax.set_ylabel("Horvitz\u2212Thompson contribution (whales)", fontsize=FS, labelpad=24, color="black")

sec = ax.secondary_xaxis("top")
sec.set_xticks(date_hours, labels=date_labels)
sec.tick_params(axis="x", direction="out", length=9.4, width=1.2, labelsize=FS, pad=7,
                colors="black")
sec.spines["top"].set_linewidth(1.4)
for lab in sec.get_xticklabels():
    lab.set_linespacing(1.45)

fig.savefig("out.png", dpi=100)
